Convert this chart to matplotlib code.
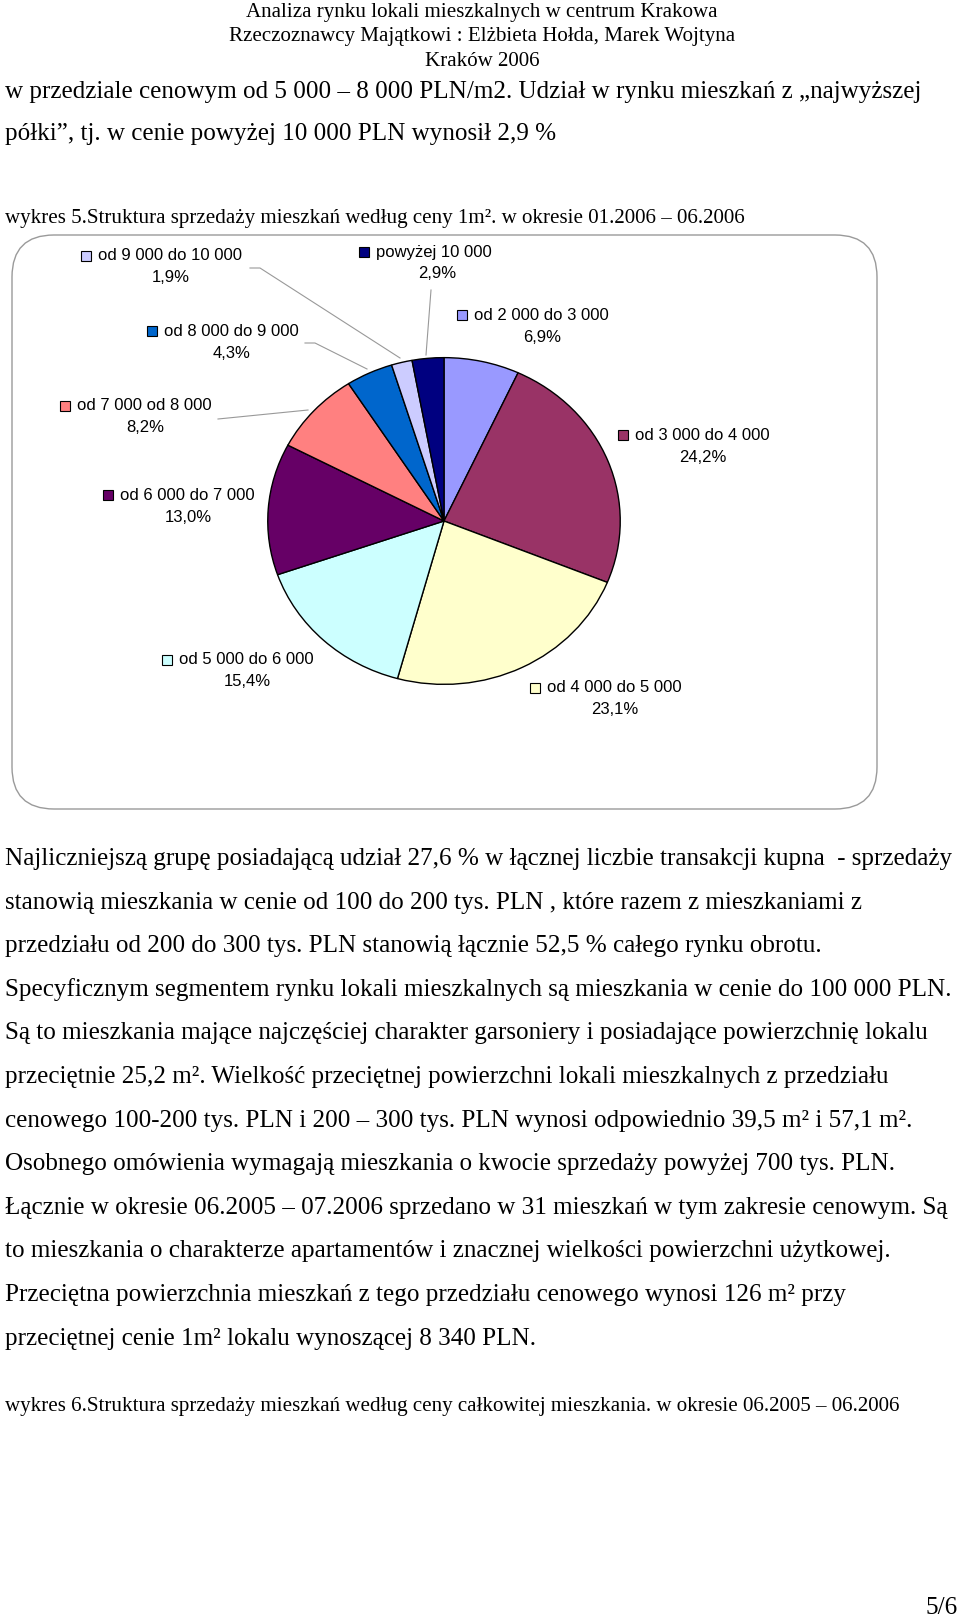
import matplotlib
matplotlib.use("Agg")
import matplotlib.pyplot as plt
from matplotlib.patches import FancyBboxPatch, Rectangle

# chart data (clockwise from 12 o'clock)
ranges = ["od 2 000 do 3 000", "od 3 000 do 4 000", "od 4 000 do 5 000",
          "od 5 000 do 6 000", "od 6 000 do 7 000", "od 7 000 od 8 000",
          "od 8 000 do 9 000", "od 9 000 do 10 000", "powyżej 10 000"]
shares = [6.9, 24.2, 23.1, 15.4, 13.0, 8.2, 4.3, 1.9, 2.9]
colors = ["#9999FF", "#993366", "#FFFFCC", "#CCFFFF", "#660066",
          "#FF8080", "#0066CC", "#CCCCFF", "#000080"]

# page text
header = ["Analiza rynku lokali mieszkalnych w centrum Krakowa",
          "Rzeczoznawcy Majątkowi : Elżbieta Hołda, Marek Wojtyna",
          "Kraków 2006"]
intro = ["w przedziale cenowym od 5 000 – 8 000 PLN/m2. Udział w rynku mieszkań z „najwyższej",
         "półki”, tj. w cenie powyżej 10 000 PLN wynosił 2,9 %"]
caption5 = "wykres 5.Struktura sprzedaży mieszkań według ceny 1m². w okresie 01.2006 – 06.2006"
body = ["Najliczniejszą grupę posiadającą udział 27,6 % w łącznej liczbie transakcji kupna  - sprzedaży",
        "stanowią mieszkania w cenie od 100 do 200 tys. PLN , które razem z mieszkaniami z",
        "przedziału od 200 do 300 tys. PLN stanowią łącznie 52,5 % całego rynku obrotu.",
        "Specyficznym segmentem rynku lokali mieszkalnych są mieszkania w cenie do 100 000 PLN.",
        "Są to mieszkania mające najczęściej charakter garsoniery i posiadające powierzchnię lokalu",
        "przeciętnie 25,2 m². Wielkość przeciętnej powierzchni lokali mieszkalnych z przedziału",
        "cenowego 100-200 tys. PLN i 200 – 300 tys. PLN wynosi odpowiednio 39,5 m² i 57,1 m².",
        "Osobnego omówienia wymagają mieszkania o kwocie sprzedaży powyżej 700 tys. PLN.",
        "Łącznie w okresie 06.2005 – 07.2006 sprzedano w 31 mieszkań w tym zakresie cenowym. Są",
        "to mieszkania o charakterze apartamentów i znacznej wielkości powierzchni użytkowej.",
        "Przeciętna powierzchnia mieszkań z tego przedziału cenowego wynosi 126 m² przy",
        "przeciętnej cenie 1m² lokalu wynoszącej 8 340 PLN."]
caption6 = "wykres 6.Struktura sprzedaży mieszkań według ceny całkowitej mieszkania. w okresie 06.2005 – 06.2006"
page_no = "5/6"

# label layout in page pixels: (square x, line1 y, pct x, pct y)
label_pos = [(457, 315, 542, 337), (618, 435, 703, 457), (530, 688, 615, 710),
             (162, 660, 247, 682), (103, 495, 188, 517), (60, 406, 145, 428),
             (147, 331, 232, 353), (81, 256, 171, 278), (359, 252, 437, 273)]
leaders = [[(250, 268), (260, 268), (400, 358)],
           [(431, 290), (426, 355)],
           [(305, 343), (315, 343), (367, 369)],
           [(218, 419), (308, 410)]]

SERIF = "Liberation Serif"
SANS = "Liberation Sans"
W, H = 960, 1620

fig = plt.figure(figsize=(W / 100, H / 100), dpi=100, facecolor="white")
ov = fig.add_axes([0, 0, 1, 1])
ov.set_xlim(0, W)
ov.set_ylim(H, 0)
ov.axis("off")
renderer = fig.canvas.get_renderer()


def fit_size(s, width, family):
    # font size that makes the string as wide as in the scan
    t = ov.text(0, 0, s, fontsize=20, family=family)
    w = t.get_window_extent(renderer).width
    t.remove()
    return 20 * width / w


hsize = fit_size(header[0], 471, SERIF)
for i, s in enumerate(header):
    ov.text(482, 17 + 24.5 * i, s, fontsize=hsize, family=SERIF,
            ha="center", va="baseline")

bsize = fit_size(body[0], 952, SERIF)
for i, s in enumerate(intro):
    ov.text(5, 98 + 42 * i, s, fontsize=bsize, family=SERIF, va="baseline")
for i, s in enumerate(body):
    ov.text(5, 865 + 43.6 * i, s, fontsize=bsize, family=SERIF, va="baseline")

csize = fit_size(caption5, 738, SERIF)
ov.text(5, 223, caption5, fontsize=csize, family=SERIF, va="baseline")
ov.text(5, 1411, caption6, fontsize=csize, family=SERIF, va="baseline")
ov.text(958, 1614, page_no, fontsize=bsize, family=SERIF, ha="right", va="baseline")

# chart frame
ov.add_patch(FancyBboxPatch((12, 235), 865, 574,
                            boxstyle="round,pad=0,rounding_size=42",
                            fc="white", ec="#9a9a9a", lw=1.0))

# labels
for name, v, c, (sx, ly, px, py) in zip(ranges, shares, colors, label_pos):
    ov.add_patch(Rectangle((sx, ly - 5), 10, 10, fc=c, ec="black", lw=0.8))
    ov.text(sx + 17, ly, name, fontsize=12, family=SANS, va="center")
    ov.text(px, py, f"{v:.1f}%".replace(".", ","), fontsize=12, family=SANS,
            ha="center", va="center")
for pts in leaders:
    ov.plot([p[0] for p in pts], [p[1] for p in pts], color="#999999", lw=0.8)

# pie, slightly wider than tall as in the scan
ax = fig.add_axes([266 / W, 1 - 686 / H, 356 / W, 330 / H])
ax.pie(shares, colors=colors, startangle=90, counterclock=False,
       wedgeprops=dict(edgecolor="black", linewidth=1.0))
ax.set_aspect("auto")
ax.set_xlim(-1.01, 1.01)
ax.set_ylim(-1.01, 1.01)
ax.axis("off")

fig.savefig("out.png", dpi=100, facecolor="white")
